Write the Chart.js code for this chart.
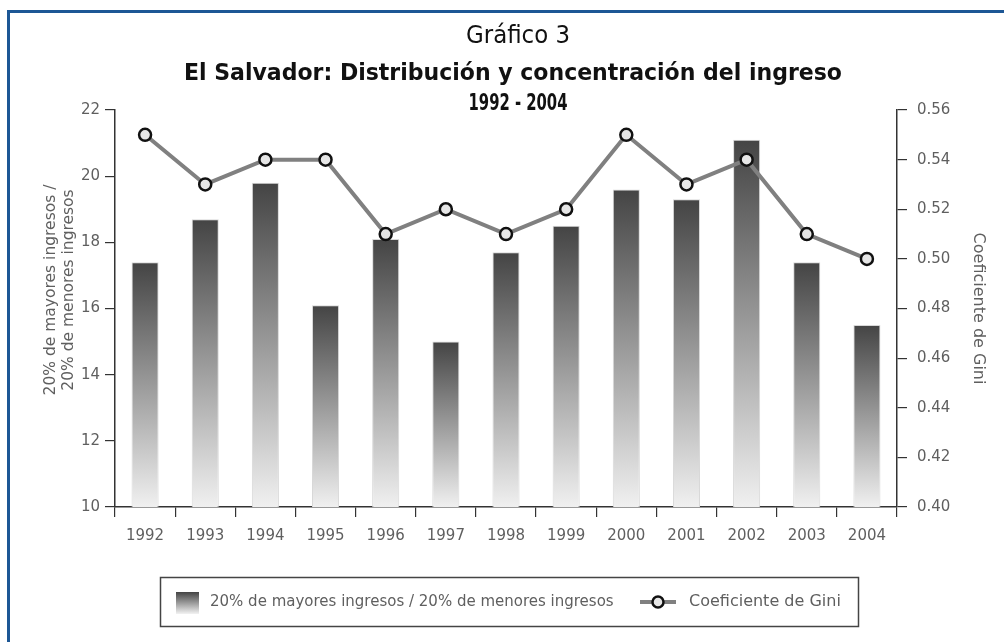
<!DOCTYPE html>
<html>
<head>
<meta charset="utf-8">
<script src="https://cdn.jsdelivr.net/npm/chart.js@4.4.1/dist/chart.umd.min.js"></script>
<style>
    html, body { margin: 0; padding: 0; background: #fff; }
    #wrap { width: 1004px; height: 642px; position: relative; }
</style>
</head>
<body>
<div id="wrap"><canvas id="chart" width="1004" height="642"></canvas></div>
<script>
// Data
const years = ['1992', '1993', '1994', '1995', '1996', '1997', '1998', '1999', '2000', '2001', '2002', '2003', '2004'];
const ratioValues = [17.4, 18.7, 19.8, 16.1, 18.1, 15.0, 17.7, 18.5, 19.6, 19.3, 21.1, 17.4, 15.5];
const giniValues = [0.55, 0.53, 0.54, 0.54, 0.51, 0.52, 0.51, 0.52, 0.55, 0.53, 0.54, 0.51, 0.50];

const titleLines = ['Gráfico 3', 'El Salvador: Distribución y concentración del ingreso', '1992 - 2004'];
const ratioLabel = '20% de mayores ingresos / 20% de menores ingresos';
const giniLabel = 'Coeficiente de Gini';
const leftAxisTitle = ['20% de mayores ingresos /', '20% de menores ingresos'];
const rightAxisTitle = 'Coeficiente de Gini';

const tickFont = { family: 'DejaVu Sans', size: 15 };
const axisColor = '#333';
const textGrey = '#5f5f5f';

// each bar gets its own top-to-base gradient
function barGradient(ctx) {
    const chart = ctx.chart;
    const y = chart.scales.y;
    if (!y || ctx.type !== 'data') return '#666';
    const top = y.getPixelForValue(ctx.raw);
    const base = y.getPixelForValue(y.min);
    if (!isFinite(top) || !isFinite(base) || top === base) return '#666';
    const g = chart.ctx.createLinearGradient(0, top, 0, base);
    g.addColorStop(0, '#444');
    g.addColorStop(1, '#f0f0f0');
    return g;
}

// draw a title line squeezed/stretched to the width it has in the original
function fitText(c, text, x, y, font, width) {
    c.font = font;
    const w = c.measureText(text).width;
    c.save();
    c.translate(x, y);
    c.scale(width / w, 1);
    c.fillText(text, 0, 0);
    c.restore();
}

// frame, titles, left axis title
const decorPlugin = {
    id: 'decor',
    beforeDraw(chart) {
        const c = chart.ctx;
        c.save();
        c.fillStyle = '#fff';
        c.fillRect(0, 0, chart.width, chart.height);
        c.strokeStyle = '#1d5795';
        c.lineWidth = 3;
        c.beginPath();
        c.moveTo(8.5, chart.height + 5);
        c.lineTo(8.5, 11.5);
        c.lineTo(chart.width + 5, 11.5);
        c.stroke();
        c.restore();
    },
    afterDraw(chart) {
        const c = chart.ctx;
        const fam = '"DejaVu Sans Condensed", "Liberation Sans", sans-serif';
        c.save();
        c.fillStyle = '#111';
        c.textAlign = 'center';
        c.textBaseline = 'middle';
        fitText(c, titleLines[0], 518, 37, '24px ' + fam, 104);
        fitText(c, titleLines[1], 513, 74, 'bold 23px ' + fam, 658);
        fitText(c, titleLines[2], 518, 104, 'bold 23px ' + fam, 99);

        // left axis title, two lines rotated
        c.fillStyle = textGrey;
        c.font = '15.5px "DejaVu Sans"';
        c.translate(51, 290);
        c.rotate(-Math.PI / 2);
        c.fillText(leftAxisTitle[0], 0, 0);
        c.fillText(leftAxisTitle[1], 0, 18);
        c.restore();
    }
};

// boxed legend under the axis
const legendBoxPlugin = {
    id: 'legendBox',
    afterDraw(chart) {
        const c = chart.ctx;
        const bar = chart.data.datasets[0];
        const line = chart.data.datasets[1];
        const midY = 602;
        c.save();
        c.strokeStyle = '#444';
        c.lineWidth = 1.5;
        c.strokeRect(160.5, 577.5, 698, 49);

        const g = c.createLinearGradient(0, 592, 0, 614);
        g.addColorStop(0, '#444');
        g.addColorStop(1, '#f2f2f2');
        c.fillStyle = g;
        c.fillRect(176, 592, 23, 22);

        c.fillStyle = textGrey;
        c.font = '15px "DejaVu Sans"';
        c.textBaseline = 'middle';
        c.textAlign = 'left';
        c.fillText(bar.label, 210, midY);

        c.strokeStyle = line.borderColor;
        c.lineWidth = 4;
        c.beginPath();
        c.moveTo(640, midY);
        c.lineTo(676, midY);
        c.stroke();
        c.beginPath();
        c.arc(658, midY, 5.5, 0, Math.PI * 2);
        c.fillStyle = line.pointBackgroundColor;
        c.fill();
        c.lineWidth = 2.5;
        c.strokeStyle = line.pointBorderColor;
        c.stroke();

        c.fillStyle = textGrey;
        c.font = '16px "DejaVu Sans"';
        c.fillText(line.label, 689, midY);
        c.restore();
    }
};

new Chart(document.getElementById('chart'), {
    type: 'bar',
    data: {
        labels: years,
        datasets: [
            {
                type: 'bar',
                label: ratioLabel,
                data: ratioValues,
                yAxisID: 'y',
                backgroundColor: barGradient,
                borderColor: '#d8d8d8',
                borderWidth: 1,
                barPercentage: 0.45,
                categoryPercentage: 1,
                order: 2
            },
            {
                type: 'line',
                label: giniLabel,
                data: giniValues,
                yAxisID: 'y1',
                borderColor: '#808080',
                borderWidth: 4,
                pointRadius: 6,
                pointBackgroundColor: '#e6e6e6',
                pointBorderColor: '#111',
                pointBorderWidth: 2.5,
                tension: 0,
                order: 1
            }
        ]
    },
    options: {
        responsive: false,
        devicePixelRatio: 1,
        animation: false,
        layout: { padding: { left: 0, right: 0, top: 110, bottom: 95 } },
        plugins: {
            legend: { display: false },
            title: { display: false },
            tooltip: { enabled: false }
        },
        scales: {
            x: {
                grid: { drawOnChartArea: false, tickLength: 10, color: axisColor, lineWidth: 1.2 },
                border: { display: true, color: axisColor, width: 1.5 },
                ticks: { color: textGrey, font: tickFont, padding: 10 },
                afterFit(scale) { scale.height = 40; }
            },
            y: {
                position: 'left',
                min: 10,
                max: 22,
                ticks: { stepSize: 2, color: textGrey, font: tickFont, padding: 5 },
                grid: { drawOnChartArea: false, tickLength: 10, color: axisColor, lineWidth: 1.2 },
                border: { display: true, color: axisColor, width: 1.5 },
                afterFit(scale) { scale.width = 115; }
            },
            y1: {
                position: 'right',
                min: 0.40,
                max: 0.56,
                ticks: {
                    stepSize: 0.02,
                    color: textGrey,
                    font: tickFont,
                    padding: 10,
                    callback: v => Number(v).toFixed(2)
                },
                grid: { drawOnChartArea: false, tickLength: 10, color: axisColor, lineWidth: 1.2 },
                border: { display: true, color: axisColor, width: 1.5 },
                title: {
                    display: true,
                    text: rightAxisTitle,
                    color: textGrey,
                    font: { family: 'DejaVu Sans', size: 16, lineHeight: 1.2 },
                    padding: { top: 16, bottom: 0 }
                },
                afterFit(scale) { scale.width = 107; }
            }
        }
    },
    plugins: [decorPlugin, legendBoxPlugin]
});
</script>
</body>
</html>
